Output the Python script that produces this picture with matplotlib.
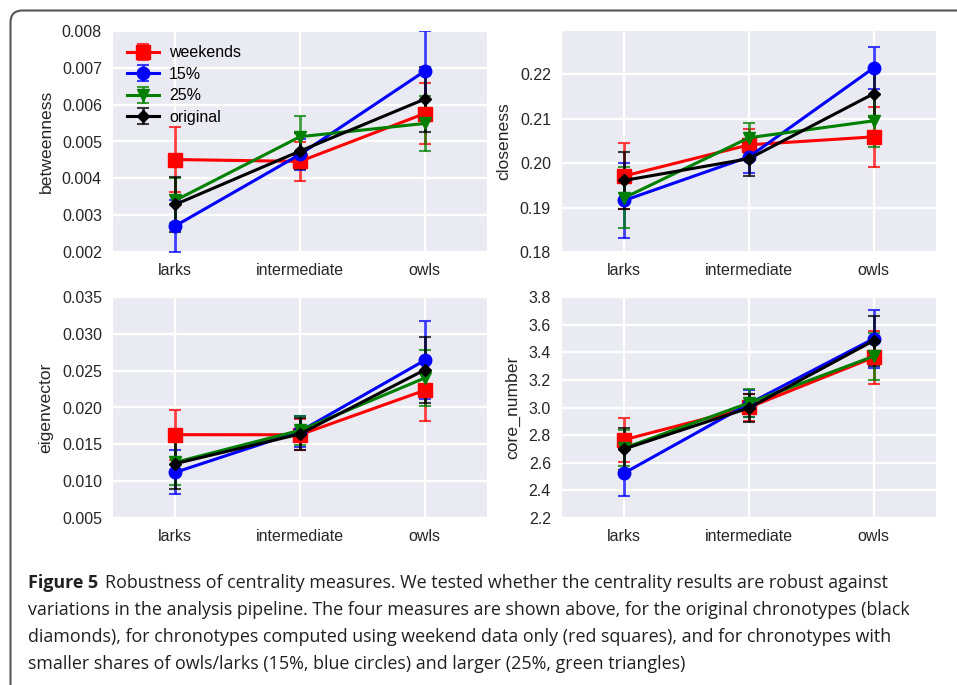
import matplotlib
matplotlib.use('Agg')
import matplotlib.pyplot as plt
from matplotlib.patches import FancyBboxPatch
from matplotlib.ticker import MultipleLocator, FormatStrFormatter

# -- categories / series --
groups = ['larks', 'intermediate', 'owls']
series = ['weekends', '15%', '25%', 'original']

# betweenness
btw_mean = {'weekends': [0.00451, 0.00446, 0.00576],
            '15%':      [0.00271, 0.00465, 0.00691],
            '25%':      [0.00340, 0.00513, 0.00549],
            'original': [0.00329, 0.00474, 0.00615]}
btw_err = {'weekends': [0.00089, 0.00052, 0.00082],
           '15%':      [0.00071, 0.00043, 0.00110],
           '25%':      [0.00060, 0.00056, 0.00075],
           'original': [0.00074, 0.00050, 0.00088]}

# closeness
clo_mean = {'weekends': [0.1971, 0.2041, 0.2059],
            '15%':      [0.1916, 0.2014, 0.2214],
            '25%':      [0.1922, 0.2057, 0.2095],
            'original': [0.1961, 0.2010, 0.2156]}
clo_err = {'weekends': [0.0074, 0.0035, 0.0067],
           '15%':      [0.0084, 0.0036, 0.0048],
           '25%':      [0.0069, 0.0034, 0.0059],
           'original': [0.0065, 0.0038, 0.0052]}

# eigenvector
eig_mean = {'weekends': [0.01631, 0.01630, 0.02233],
            '15%':      [0.01120, 0.01676, 0.02640],
            '25%':      [0.01256, 0.01690, 0.02400],
            'original': [0.01238, 0.01640, 0.02510]}
eig_err = {'weekends': [0.0034, 0.0021, 0.0041],
           '15%':      [0.0030, 0.0021, 0.0053],
           '25%':      [0.0031, 0.0020, 0.0038],
           'original': [0.0034, 0.0022, 0.0045]}

# core number
core_mean = {'weekends': [2.767, 3.001, 3.363],
             '15%':      [2.526, 3.028, 3.498],
             '25%':      [2.707, 3.033, 3.371],
             'original': [2.700, 2.997, 3.484]}
core_err = {'weekends': [0.16, 0.10, 0.19],
            '15%':      [0.17, 0.10, 0.21],
            '25%':      [0.13, 0.10, 0.17],
            'original': [0.15, 0.10, 0.18]}

styles = {'weekends': ('red', 's', 9.5),
          '15%':      ('blue', 'o', 9),
          '25%':      ('green', 'v', 9),
          'original': ('black', 'D', 6)}

plt.rcParams['font.family'] = ['Liberation Sans', 'DejaVu Sans']
plt.rcParams['font.size'] = 11.5

W, H = 957, 685
fig = plt.figure(figsize=(W / 100, H / 100), dpi=100)

# frame around the figure
fig.patches.append(FancyBboxPatch((10.5, -20), 980, 694.5,
                                  boxstyle='round,pad=0,rounding_size=12',
                                  transform=None, fill=False,
                                  edgecolor='#555555', linewidth=1.5))


def panel(rect, means, errs, ylabel, ylim, step, fmt, legend=False):
    l, t, r, b = rect
    ax = fig.add_axes([l / W, 1 - b / H, (r - l) / W, (b - t) / H])
    ax.set_facecolor('#EAEAF2')
    ax.grid(True, color='white', linewidth=1.6)
    ax.set_axisbelow(True)
    for s in ax.spines.values():
        s.set_visible(False)
    xs = list(range(len(groups)))
    for name in series:
        c, m, ms = styles[name]
        ax.errorbar(xs, means[name], yerr=errs[name], color=c, marker=m,
                    markersize=ms, linewidth=2.2, elinewidth=2, capsize=4,
                    capthick=1.5, ecolor=matplotlib.colors.to_rgba(c, 0.75),
                    label=name)
    ax.set_xlim(-0.5, 2.5)
    ax.set_ylim(*ylim)
    ax.set_xticks(xs)
    ax.set_xticklabels(groups)
    ax.yaxis.set_major_locator(MultipleLocator(step))
    ax.yaxis.set_major_formatter(FormatStrFormatter(fmt))
    ax.tick_params(length=0, pad=8, labelsize=11.5, colors='#262626')
    ax.set_ylabel(ylabel, fontsize=12.6, color='#262626', labelpad=6)
    if legend:
        ax.legend(loc='upper left', frameon=False, numpoints=1,
                  handlelength=2.0, fontsize=11.5, borderaxespad=0.5,
                  labelspacing=0.4, handletextpad=0.6)
    return ax


panel((113, 31, 487, 252), btw_mean, btw_err, 'betweenness',
      (0.002, 0.008), 0.001, '%.3f', legend=True)
panel((562, 31, 936, 252), clo_mean, clo_err, 'closeness',
      (0.18, 0.2297), 0.01, '%.2f')
panel((113, 297, 487, 518), eig_mean, eig_err, 'eigenvector',
      (0.005, 0.035), 0.005, '%.3f')
panel((562, 297, 936, 518), core_mean, core_err, 'core_number',
      (2.2, 3.8), 0.2, '%.1f')

# -- caption --
cap_font = ['Open Sans', 'DejaVu Sans']
cap_lines = [
    'Robustness of centrality measures. We tested whether the centrality results are robust against',
    'variations in the analysis pipeline. The four measures are shown above, for the original chronotypes (black',
    'diamonds), for chronotypes computed using weekend data only (red squares), and for chronotypes with',
    'smaller shares of owls/larks (15%, blue circles) and larger (25%, green triangles)',
]
cap_y = [583, 610, 637, 664]
cap_size = 12.9

renderer = fig.canvas.get_renderer()
bold = fig.text(28 / W, 1 - cap_y[0] / H, 'Figure 5', family=cap_font,
                fontsize=cap_size, fontweight='bold', va='center',
                color='#231f20')
bb = bold.get_window_extent(renderer)
fig.text((bb.x1 + 7) / W, 1 - cap_y[0] / H, cap_lines[0], family=cap_font,
         fontsize=cap_size, va='center', color='#231f20')
for txt, y in zip(cap_lines[1:], cap_y[1:]):
    fig.text(28 / W, 1 - y / H, txt, family=cap_font, fontsize=cap_size,
             va='center', color='#231f20')

fig.savefig('out.png', dpi=100)
